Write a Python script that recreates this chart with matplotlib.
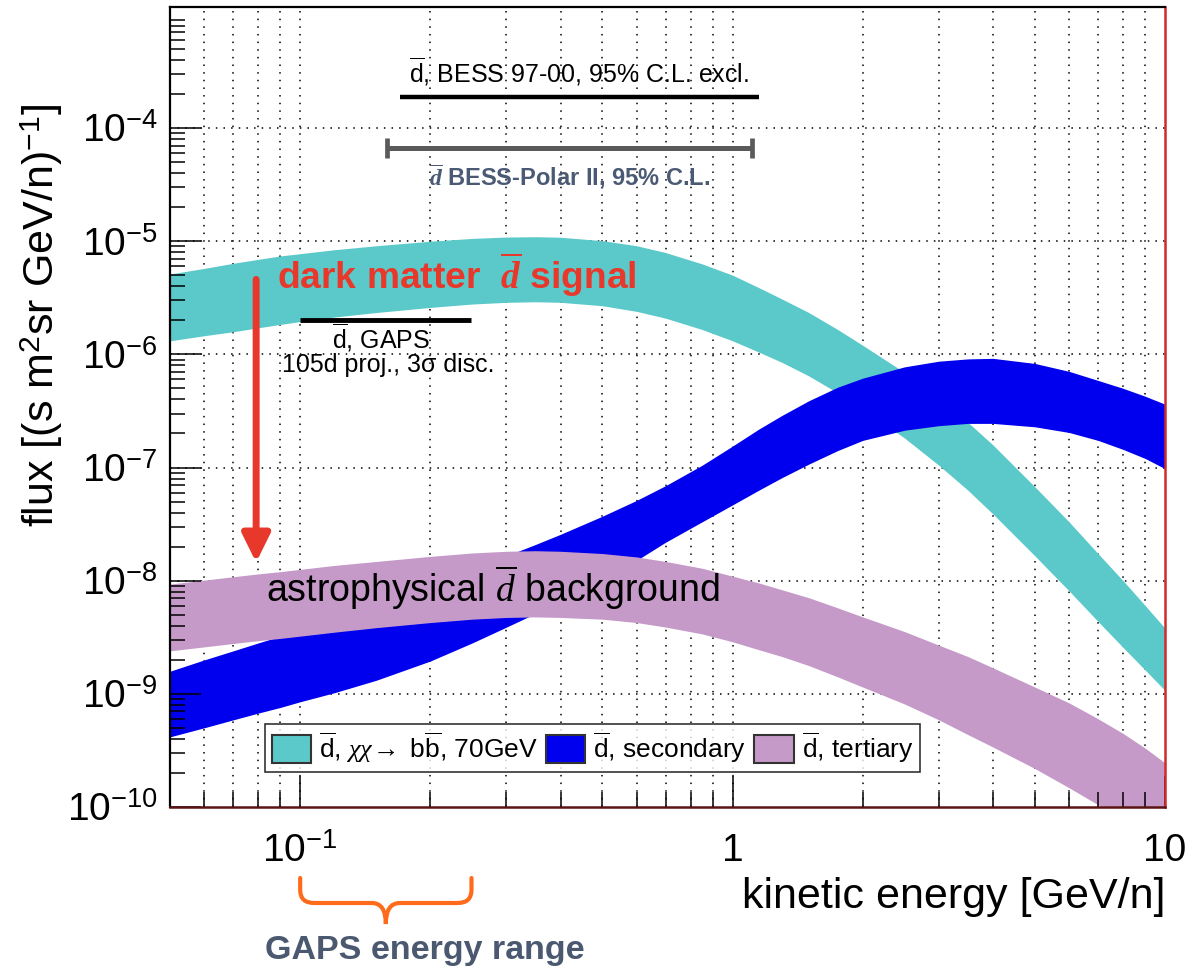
import numpy as np
import matplotlib as mpl
import matplotlib.pyplot as plt
from matplotlib.patches import Patch, PathPatch
from matplotlib.path import Path
from matplotlib.ticker import FixedLocator, FixedFormatter, LogLocator, NullFormatter

mpl.rcParams['font.family'] = ['Liberation Sans', 'DejaVu Sans']
mpl.rcParams['mathtext.fontset'] = 'custom'
mpl.rcParams['mathtext.rm'] = 'Liberation Sans'
mpl.rcParams['mathtext.it'] = 'Liberation Serif:italic'
mpl.rcParams['mathtext.bf'] = 'Liberation Sans:bold'
mpl.rcParams['mathtext.bfit'] = 'Liberation Serif:italic:bold'

### Data ###
# kinetic energy [GeV/n]
energy = [0.05, 0.06, 0.07, 0.08, 0.09, 0.1, 0.12, 0.15, 0.2, 0.25, 0.3,
          0.35, 0.4, 0.5, 0.6, 0.7, 0.85, 1.0, 1.15, 1.3, 1.5, 1.75,
          2.0, 2.5, 3.0, 3.5, 4.0, 5.0, 6.0, 7.0, 8.0, 9.0, 10.0]

# log10 of flux [(s m^2 sr GeV/n)^-1], lower / upper band edges
dm_hi_log = [-5.29, -5.24, -5.195, -5.16, -5.13, -5.11, -5.075, -5.04, -5.00, -4.975, -4.963,
             -4.96, -4.965, -4.995, -5.04, -5.10, -5.20, -5.30, -5.41, -5.51, -5.63, -5.78,
             -5.92, -6.16, -6.39, -6.60, -6.80, -7.17, -7.48, -7.76, -8.00, -8.22, -8.42]
dm_lo_log = [-5.88, -5.835, -5.80, -5.765, -5.735, -5.71, -5.67, -5.63, -5.585, -5.555, -5.54,
             -5.535, -5.54, -5.57, -5.62, -5.68, -5.78, -5.88, -5.98, -6.07, -6.19, -6.34,
             -6.48, -6.74, -6.98, -7.20, -7.41, -7.78, -8.09, -8.36, -8.59, -8.79, -8.97]

sec_hi_log = [-8.80, -8.70, -8.62, -8.55, -8.49, -8.43, -8.33, -8.21, -8.04, -7.90, -7.78,
              -7.68, -7.59, -7.43, -7.29, -7.16, -6.98, -6.81, -6.66, -6.54, -6.41, -6.29,
              -6.21, -6.11, -6.06, -6.04, -6.035, -6.08, -6.15, -6.23, -6.30, -6.37, -6.44]
sec_lo_log = [-9.38, -9.30, -9.23, -9.17, -9.12, -9.07, -8.99, -8.88, -8.71, -8.55, -8.41,
              -8.29, -8.18, -7.99, -7.82, -7.66, -7.48, -7.33, -7.20, -7.09, -6.97, -6.85,
              -6.76, -6.67, -6.63, -6.61, -6.61, -6.64, -6.69, -6.76, -6.84, -6.92, -7.01]

ter_hi_log = [-8.03, -7.995, -7.965, -7.94, -7.92, -7.90, -7.865, -7.83, -7.785, -7.755, -7.74,
              -7.735, -7.74, -7.76, -7.79, -7.83, -7.89, -7.96, -8.02, -8.08, -8.15, -8.24,
              -8.32, -8.45, -8.57, -8.67, -8.77, -8.94, -9.08, -9.22, -9.35, -9.48, -9.61]
ter_lo_log = [-8.62, -8.585, -8.555, -8.53, -8.51, -8.49, -8.455, -8.415, -8.37, -8.34, -8.325,
              -8.32, -8.325, -8.34, -8.37, -8.41, -8.47, -8.54, -8.61, -8.67, -8.75, -8.85,
              -8.94, -9.09, -9.23, -9.36, -9.47, -9.66, -9.83, -9.98, -10.12, -10.25, -10.38]

# limits / sensitivities: energy range and flux level
bess_e = [0.17, 1.15]
bess_flux = 1.88e-4
bess_polar_e = [0.159, 1.106]
bess_polar_flux = 6.6e-5
gaps_e = [0.1, 0.249]
gaps_flux = 2.0e-6

band_labels = [r'$\overline{\mathrm{d}}$, $\chi\chi\!\rightarrow$ b$\overline{\mathrm{b}}$, 70GeV',
               r'$\overline{\mathrm{d}}$, secondary',
               r'$\overline{\mathrm{d}}$, tertiary']
band_colors = ['#5bc9c9', '#0000ee', '#c59ac8']

x_ticks = [0.1, 1, 10]
x_ticklabels = [r'$10^{-1}$', '1', '10']
y_ticks = [1e-10, 1e-9, 1e-8, 1e-7, 1e-6, 1e-5, 1e-4]
y_ticklabels = [r'$10^{-10}$', r'$10^{-9}$', r'$10^{-8}$', r'$10^{-7}$',
                r'$10^{-6}$', r'$10^{-5}$', r'$10^{-4}$']

xlim = (0.05, 10)
ylim = (1e-10, 10 ** -2.93)

### Plot ###
W, H = 1195, 969
fig = plt.figure(figsize=(W / 100, H / 100), dpi=100)
ax = fig.add_axes([170 / W, (H - 807) / H, 995 / W, 800 / H])
ax.set_xscale('log')
ax.set_yscale('log')
ax.set_xlim(*xlim)
ax.set_ylim(*ylim)

e = np.array(energy)
bands = [(dm_lo_log, dm_hi_log), (sec_lo_log, sec_hi_log), (ter_lo_log, ter_hi_log)]
for (lo, hi), c in zip(bands, band_colors):
    ax.fill_between(e, 10 ** np.array(lo), 10 ** np.array(hi), color=c, lw=0, zorder=1)

# ticks
ax.xaxis.set_major_locator(FixedLocator(x_ticks))
ax.xaxis.set_major_formatter(FixedFormatter(x_ticklabels))
ax.xaxis.set_minor_locator(LogLocator(base=10, subs=np.arange(2, 10), numticks=100))
ax.xaxis.set_minor_formatter(NullFormatter())
ax.yaxis.set_major_locator(FixedLocator(y_ticks))
ax.yaxis.set_major_formatter(FixedFormatter(y_ticklabels))
ax.yaxis.set_minor_locator(LogLocator(base=10, subs=np.arange(2, 10), numticks=100))
ax.yaxis.set_minor_formatter(NullFormatter())
ax.tick_params(which='both', direction='in', top=False, right=False, width=1.1)
ax.tick_params(which='major', length=22, labelsize=28)
ax.tick_params(which='minor', length=11)
ax.tick_params(axis='x', which='major', pad=19)
ax.tick_params(axis='y', which='major', pad=9)

# dotted grid, kept under the bands
grid_kw = dict(color='black', lw=1.1, ls=(0, (1, 4)), zorder=0.5)
for v in list(ax.get_xticks()) + list(ax.xaxis.get_minorticklocs()):
    if xlim[0] < v < xlim[1]:
        ax.axvline(v, **grid_kw)
for v in ax.get_yticks():
    if ylim[0] < v < ylim[1]:
        ax.axhline(v, **grid_kw)

for s in ['left', 'top']:
    ax.spines[s].set_linewidth(1.6)
ax.spines['right'].set_color('#d02a2a')
ax.spines['right'].set_linewidth(1.8)
ax.spines['bottom'].set_color('#5a1414')
ax.spines['bottom'].set_linewidth(1.8)

# axis labels
ax.set_xlabel('kinetic energy [GeV/n]', fontsize=31, loc='right')
ax.xaxis.set_label_coords(1.0, -0.087)
ax.set_ylabel(r'flux [(s m$^{2}$sr GeV/n)$^{-1}$]', fontsize=31)
ax.yaxis.set_label_coords(-0.106, 0.614)

# BESS 97-00 limit
ax.plot(bess_e, [bess_flux] * 2, color='black', lw=3.2, solid_capstyle='butt', zorder=3)
ax.text(np.sqrt(bess_e[0] * bess_e[1]), bess_flux * 1.2,
        r'$\overline{\mathrm{d}}$, BESS 97-00, 95% C.L. excl.',
        fontsize=18, ha='center', va='bottom')

# BESS-Polar II limit
ax.plot(bess_polar_e, [bess_polar_flux] * 2, color='#5a5a5a', lw=3.6,
        marker='|', markersize=15, mew=3.4, solid_capstyle='butt', zorder=3)
ax.text(np.sqrt(bess_polar_e[0] * bess_polar_e[1]), bess_polar_flux * 0.76,
        r'$\overline{\mathbfit{d}}$ BESS-Polar II, 95% C.L.',
        fontsize=17, fontweight='bold', color='#4b5a74', ha='center', va='top')

# GAPS sensitivity
ax.plot(gaps_e, [gaps_flux] * 2, color='black', lw=3.5, solid_capstyle='butt', zorder=3)
ax.text(0.154, 1.41e-6, r'$\overline{\mathrm{d}}$, GAPS', fontsize=18, ha='center', va='center')
ax.text(0.16, 8.0e-7, '105d proj., 3σ disc.', fontsize=18, ha='center', va='center')

# signal / background annotations
ax.text(0.0885, 3.76e-6, r'dark matter  $\overline{\mathbfit{d}}$ signal',
        fontsize=26.8, fontweight='bold', color='#e8382b', ha='left', va='baseline', zorder=4)
ax.text(0.0834, 6.5e-9, r'astrophysical $\overline{\mathit{d}}$ background',
        fontsize=27, color='black', ha='left', va='baseline', zorder=4)
ax.annotate('', xy=(0.0791, 1.45e-8), xytext=(0.0791, 4.6e-6),
            arrowprops=dict(arrowstyle='-|>,head_length=0.85,head_width=0.42',
                            color='#e8382b', lw=5, mutation_scale=20,
                            shrinkA=0, shrinkB=0), zorder=4)

# legend
handles = [Patch(facecolor=c, edgecolor='#333333', lw=1.5) for c in band_colors]
leg = ax.legend(handles, band_labels, ncol=3, loc='lower left', bbox_to_anchor=(0.0955, 0.044),
                fontsize=19, frameon=True, fancybox=False, edgecolor='black',
                handlelength=1.5, handleheight=1.25, handletextpad=0.3,
                columnspacing=0.3, borderpad=0.25, borderaxespad=0)
leg.get_frame().set_linewidth(1.2)
leg.set_zorder(5)

# GAPS energy range brace below the axis
lx0, lx1 = np.log10(xlim[0]), np.log10(xlim[1])
def xfrac(en):
    return (170 + (np.log10(en) - lx0) / (lx1 - lx0) * 995) / W

bx0, bx1 = xfrac(gaps_e[0]), xfrac(gaps_e[1])
bxm = 0.5 * (bx0 + bx1)
y_top, y_mid, y_tip = 1 - 878 / H, 1 - 903 / H, 1 - 924 / H
dx, dy = 14 / W, 13 / H
verts = [(bx0, y_top), (bx0, y_mid + dy), (bx0, y_mid), (bx0 + dx, y_mid),
         (bxm - dx, y_mid), (bxm, y_mid), (bxm, y_tip), (bxm, y_mid), (bxm + dx, y_mid),
         (bx1 - dx, y_mid), (bx1, y_mid), (bx1, y_mid + dy), (bx1, y_top)]
codes = [Path.MOVETO, Path.LINETO, Path.CURVE3, Path.CURVE3,
         Path.LINETO, Path.CURVE3, Path.CURVE3, Path.CURVE3, Path.CURVE3,
         Path.LINETO, Path.CURVE3, Path.CURVE3, Path.LINETO]
fig.patches.append(PathPatch(Path(verts, codes), transform=fig.transFigure,
                             fill=False, edgecolor='#ff6b1a', lw=3, capstyle='round'))
fig.text(425 / W, 1 - 951 / H, 'GAPS energy range', fontsize=24.5, fontweight='bold',
         color='#4a5870', ha='center', va='center')

fig.savefig('out.png', dpi=100)
